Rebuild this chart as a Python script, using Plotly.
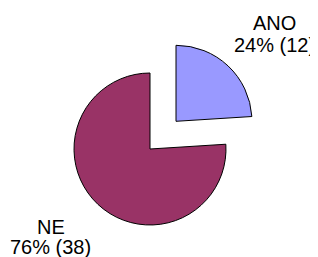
import math
import plotly.graph_objects as go

labels = ["ANO", "NE"]
values = [12, 38]
colors = ["#9999FF", "#993366"]
pulls = [0.5, 0]          # fraction of radius each slice is pulled out

# page body has an 8px default margin; size the figure to fill the rest of the window
OFF = 8
W, H = 318 - OFF, 257 - OFF
total = sum(values)

CX, CY, R = 150 - OFF, 149 - OFF, 76   # pie centre / radius (figure pixels)

fig = go.Figure()
start = 0.0
for i, (lab, val) in enumerate(zip(labels, values)):
    frac = val / total
    mid = math.radians(360 * (start + frac / 2))
    start += frac
    # each slice drawn by its own pie trace, whose centre is shifted by the pull
    cx = CX + pulls[i] * R * math.sin(mid)
    cy = CY - pulls[i] * R * math.cos(mid)
    slice_colors = [c if j == i else "rgba(0,0,0,0)" for j, c in enumerate(colors)]
    widths = [1 if j == i else 0 for j in range(len(values))]
    fig.add_trace(go.Pie(
        labels=labels,
        values=values,
        sort=False,
        direction="clockwise",
        rotation=0,
        marker=dict(colors=slice_colors, line=dict(color="#000000", width=widths)),
        textinfo="none",
        hoverinfo="label+value+percent",
        showlegend=False,
        domain=dict(x=[(cx - R) / W, (cx + R) / W],
                    y=[1 - (cy + R) / H, 1 - (cy - R) / H]),
    ))

# label placement (pixel centres in the window) for each slice: (x, name line y, value line y)
label_pos = [(274, 23, 44.5), (50.5, 226.5, 246.5)]
font = dict(family="Liberation Sans, Arial, sans-serif", size=20, color="#000000")
annotations = []
for lab, val, (px, y1, y2) in zip(labels, values, label_pos):
    pct = round(100 * val / total)
    for txt, py in ((lab, y1), (f"{pct}% ({val})", y2)):
        annotations.append(dict(text=txt, x=(px - OFF) / W, y=1 - (py - OFF) / H,
                                xref="paper", yref="paper", xanchor="center",
                                yanchor="middle", showarrow=False, font=font))

fig.update_layout(
    width=W, height=H,
    margin=dict(l=0, r=0, t=0, b=0),
    paper_bgcolor="#FFFFFF",
    plot_bgcolor="#FFFFFF",
    annotations=annotations,
)

fig.write_html("out.html")
